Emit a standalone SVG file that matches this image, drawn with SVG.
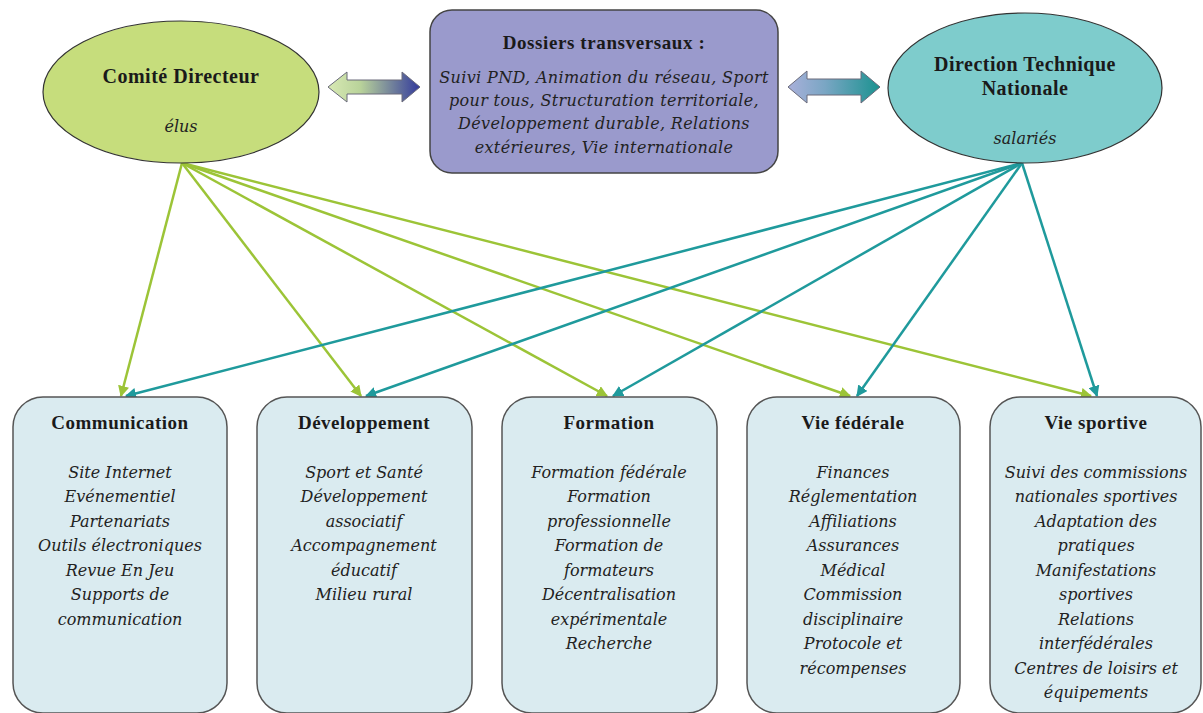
<svg xmlns="http://www.w3.org/2000/svg" width="1203" height="713" viewBox="0 0 1203 713">
  <defs>
    <linearGradient id="gLeft" x1="0" y1="0" x2="1" y2="0">
      <stop offset="0" stop-color="#d8e9b4"/>
      <stop offset="0.35" stop-color="#b9d39a"/>
      <stop offset="1" stop-color="#333a9c"/>
    </linearGradient>
    <linearGradient id="gRight" x1="0" y1="0" x2="1" y2="0">
      <stop offset="0" stop-color="#a9b0da"/>
      <stop offset="0.4" stop-color="#7aa6c4"/>
      <stop offset="1" stop-color="#1b9290"/>
    </linearGradient>
    <marker id="mGreen" viewBox="0 0 10 10" refX="9" refY="5" markerWidth="4.5" markerHeight="4.5" orient="auto-start-reverse" markerUnits="strokeWidth">
      <path d="M0,0 L10,5 L0,10 z" fill="#9cc437"/>
    </marker>
    <marker id="mTeal" viewBox="0 0 10 10" refX="9" refY="5" markerWidth="4.5" markerHeight="4.5" orient="auto-start-reverse" markerUnits="strokeWidth">
      <path d="M0,0 L10,5 L0,10 z" fill="#1f9a9c"/>
    </marker>
  </defs>
  <style>
    .bold { font-family: "Liberation Serif", "Times New Roman", serif; font-weight: bold; font-size: 19px; fill: #1a1a1a; text-anchor: middle; letter-spacing: 0.5px; }
    .big { font-size: 20px; letter-spacing: 0.5px; }
    .it { font-family: "DejaVu Serif", "Liberation Serif", serif; font-style: italic; font-size: 16px; fill: #222; text-anchor: middle; }
    .box { fill: #daebf0; stroke: #555; stroke-width: 1.5; }
    .green { stroke: #9cc437; stroke-width: 2.5; fill: none; marker-end: url(#mGreen); }
    .teal { stroke: #1f9a9c; stroke-width: 2.5; fill: none; marker-end: url(#mTeal); }
  </style>

  <rect width="1203" height="713" fill="#ffffff"/>

  <!-- connectors -->
  <g id="connectors">
    <line class="green" x1="182" y1="163" x2="121" y2="396"/>
    <line class="green" x1="182" y1="163" x2="361" y2="396"/>
    <line class="green" x1="182" y1="163" x2="607" y2="396"/>
    <line class="green" x1="182" y1="163" x2="850" y2="396"/>
    <line class="green" x1="182" y1="163" x2="1091" y2="396"/>
    <line class="teal" x1="1022" y1="163" x2="126" y2="396"/>
    <line class="teal" x1="1022" y1="163" x2="366" y2="396"/>
    <line class="teal" x1="1022" y1="163" x2="613" y2="396"/>
    <line class="teal" x1="1022" y1="163" x2="857" y2="396"/>
    <line class="teal" x1="1022" y1="163" x2="1097" y2="396"/>
    <!-- double arrows between the top blocks -->
    <polygon points="328,87 347,72 347,80 402,80 402,72 420,87 402,102 402,94 347,94 347,102" fill="url(#gLeft)" stroke="#6a6a7a" stroke-width="1"/>
    <polygon points="788,87 807,71 807,79 861,79 861,71 880,87 861,103 861,95 807,95 807,103" fill="url(#gRight)" stroke="#6a6a7a" stroke-width="1"/>
  </g>

  <g id="comite-directeur">
    <ellipse cx="181" cy="92" rx="138" ry="71" fill="#c6dd7c" stroke="#333" stroke-width="1.2"/>
    <text class="bold big" x="181" y="83">Comité Directeur</text>
    <text class="it" x="181" y="132">élus</text>
  </g>

  <g id="dossiers-transversaux">
    <rect x="430" y="10" width="348" height="163" rx="22" fill="#9a9acc" stroke="#444" stroke-width="1.5"/>
    <text class="bold" x="604" y="49" style="letter-spacing:0.6px">Dossiers transversaux :</text>
    <text class="it" x="604" y="83" style="letter-spacing:0.35px">Suivi PND, Animation du réseau, Sport</text>
    <text class="it" x="604" y="106" style="letter-spacing:0.35px">pour tous, Structuration territoriale,</text>
    <text class="it" x="604" y="129" style="letter-spacing:0.35px">Développement durable, Relations</text>
    <text class="it" x="604" y="153" style="letter-spacing:0.35px">extérieures, Vie internationale</text>
  </g>

  <g id="direction-technique-nationale">
    <ellipse cx="1025" cy="88" rx="137" ry="75" fill="#7ecccc" stroke="#333" stroke-width="1.2"/>
    <text class="bold big" x="1025" y="71">Direction Technique</text>
    <text class="bold big" x="1025" y="95">Nationale</text>
    <text class="it" x="1025" y="144">salariés</text>
  </g>

  <g id="communication">
    <rect class="box" x="13" y="397" width="214" height="316" rx="30"/>
    <text class="bold" x="120" y="429">Communication</text>
    <text class="it" x="120" y="478">Site Internet</text>
    <text class="it" x="120" y="502">Evénementiel</text>
    <text class="it" x="120" y="527">Partenariats</text>
    <text class="it" x="120" y="551">Outils électroniques</text>
    <text class="it" x="120" y="576">Revue En Jeu</text>
    <text class="it" x="120" y="600">Supports de</text>
    <text class="it" x="120" y="625">communication</text>
  </g>

  <g id="developpement">
    <rect class="box" x="257" y="397" width="215" height="316" rx="30"/>
    <text class="bold" x="364" y="429">Développement</text>
    <text class="it" x="364" y="478">Sport et Santé</text>
    <text class="it" x="364" y="502">Développement</text>
    <text class="it" x="364" y="527">associatif</text>
    <text class="it" x="364" y="551">Accompagnement</text>
    <text class="it" x="364" y="576">éducatif</text>
    <text class="it" x="364" y="600">Milieu rural</text>
  </g>

  <g id="formation">
    <rect class="box" x="502" y="397" width="215" height="316" rx="30"/>
    <text class="bold" x="609" y="429">Formation</text>
    <text class="it" x="609" y="478">Formation fédérale</text>
    <text class="it" x="609" y="502">Formation</text>
    <text class="it" x="609" y="527">professionnelle</text>
    <text class="it" x="609" y="551">Formation de</text>
    <text class="it" x="609" y="576">formateurs</text>
    <text class="it" x="609" y="600">Décentralisation</text>
    <text class="it" x="609" y="625">expérimentale</text>
    <text class="it" x="609" y="649">Recherche</text>
  </g>

  <g id="vie-federale">
    <rect class="box" x="747" y="397" width="213" height="316" rx="30"/>
    <text class="bold" x="853" y="429">Vie fédérale</text>
    <text class="it" x="853" y="478">Finances</text>
    <text class="it" x="853" y="502">Réglementation</text>
    <text class="it" x="853" y="527">Affiliations</text>
    <text class="it" x="853" y="551">Assurances</text>
    <text class="it" x="853" y="576">Médical</text>
    <text class="it" x="853" y="600">Commission</text>
    <text class="it" x="853" y="625">disciplinaire</text>
    <text class="it" x="853" y="649">Protocole et</text>
    <text class="it" x="853" y="674">récompenses</text>
  </g>

  <g id="vie-sportive">
    <rect class="box" x="990" y="397" width="211" height="316" rx="30"/>
    <text class="bold" x="1096" y="429">Vie sportive</text>
    <text class="it" x="1096" y="478">Suivi des commissions</text>
    <text class="it" x="1096" y="502">nationales sportives</text>
    <text class="it" x="1096" y="527">Adaptation des</text>
    <text class="it" x="1096" y="551">pratiques</text>
    <text class="it" x="1096" y="576">Manifestations</text>
    <text class="it" x="1096" y="600">sportives</text>
    <text class="it" x="1096" y="625">Relations</text>
    <text class="it" x="1096" y="649">interfédérales</text>
    <text class="it" x="1096" y="674">Centres de loisirs et</text>
    <text class="it" x="1096" y="698">équipements</text>
  </g>
</svg>
